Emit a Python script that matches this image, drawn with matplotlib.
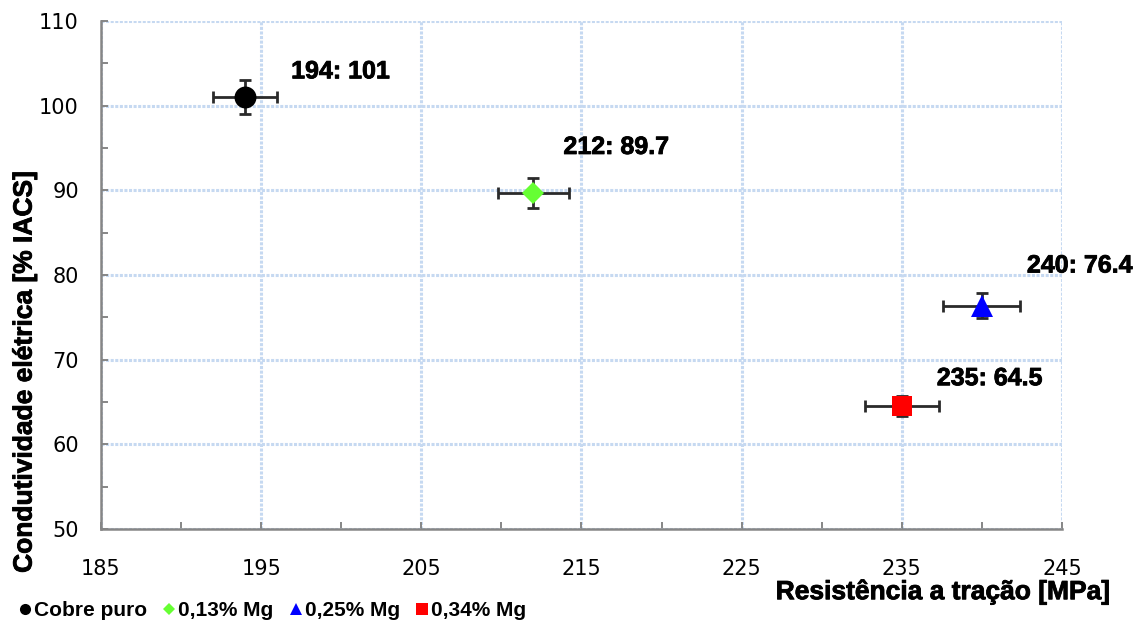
import matplotlib.pyplot as plt
import matplotlib.patheffects as pe
from matplotlib.lines import Line2D
from matplotlib.ticker import MultipleLocator

# Amostras: cobre puro e ligas Cu-Mg
amostras = ['Cobre puro', '0,13% Mg', '0,25% Mg', '0,34% Mg']
resistencia = [194, 212, 240, 235]          # MPa
condutividade = [101, 89.7, 76.4, 64.5]     # % IACS
erro_res = [2.0, 2.2, 2.4, 2.3]
erro_cond = [2.0, 1.8, 1.5, 1.2]

marcadores = ['o', 'D', '^', 's']
cores = ['#000000', '#66FF33', '#0000FF', '#FF0000']
tamanhos = [15.8, 10.8, 16.5, 14.4]

# deslocamento dos rótulos (pixels)
desloc = [(46, 26), (30, 46), (45, 40), (35, 28)]

# eixo x: marcas principais em 185, 195, ..., 245
x_principais = list(range(185, 246, 10))
x_secundarias = list(range(190, 245, 10))

fonte_negrito = ['Liberation Sans', 'DejaVu Sans']
engrossar = [pe.withStroke(linewidth=0.6, foreground='black')]

fig = plt.figure(figsize=(11.45, 6.23), dpi=100)
ax = fig.add_axes([0.0882, 0.151, 0.8393, 0.815])

for i in range(len(amostras)):
    linha, caps, barras = ax.errorbar(
        resistencia[i], condutividade[i],
        xerr=erro_res[i], yerr=erro_cond[i],
        fmt=marcadores[i], color=cores[i], markersize=tamanhos[i],
        ecolor='#2a2a2a', elinewidth=2, capsize=4, capthick=2, zorder=3)
    linha.set_markeredgewidth(0)
    for c in caps:
        c.set_color('black')
    ax.annotate(f'{resistencia[i]}: {condutividade[i]:g}',
                (resistencia[i], condutividade[i]),
                xytext=desloc[i], textcoords='offset pixels',
                ha='left', va='center', fontsize=18, fontweight='bold',
                family=fonte_negrito, zorder=4, path_effects=engrossar)

ax.set_xlim(185, 245)
ax.set_ylim(50, 110)
ax.set_xticks(x_principais)
ax.set_xticks(x_secundarias, minor=True)
ax.yaxis.set_major_locator(MultipleLocator(10))
ax.yaxis.set_minor_locator(MultipleLocator(5))

# grade pontilhada azul clara
ax.grid(True, which='major', color='#C6D9F1', linestyle=(0, (1.0, 0.5)),
        linewidth=2.2, zorder=0)
ax.set_axisbelow(True)

for lado in ['top', 'right']:
    ax.spines[lado].set_visible(False)
for lado in ['left', 'bottom']:
    ax.spines[lado].set_color('#868686')
    ax.spines[lado].set_linewidth(1.8)

ax.tick_params(which='both', direction='in', length=5, width=1.4,
               color='#868686', labelsize=15)
ax.tick_params(axis='x', pad=22)
ax.tick_params(axis='y', pad=16)

ax.set_xlabel('Resistência a tração [MPa]', fontsize=19, fontweight='bold',
              family=fonte_negrito, path_effects=engrossar)
ax.xaxis.set_label_coords(1.05, -0.1, transform=ax.transAxes)
ax.xaxis.label.set_ha('right')
ax.set_ylabel('Condutividade elétrica [% IACS]', fontsize=19,
              fontweight='bold', family=fonte_negrito, path_effects=engrossar)
ax.yaxis.set_label_coords(-0.067, 0.309)

handles = [Line2D([], [], linestyle='none', marker=marcadores[i],
                  color=cores[i], markersize=[8, 6.5, 8.5, 9][i],
                  markeredgewidth=0)
           for i in range(len(amostras))]
fig.legend(handles, amostras, loc='lower left', bbox_to_anchor=(0.007, -0.012),
           ncol=4, frameon=False, handlelength=0.6, handletextpad=0.15,
           columnspacing=0.75, borderpad=0,
           prop={'family': fonte_negrito, 'weight': 'bold', 'size': 15})

fig.savefig('out.png', dpi=100)
